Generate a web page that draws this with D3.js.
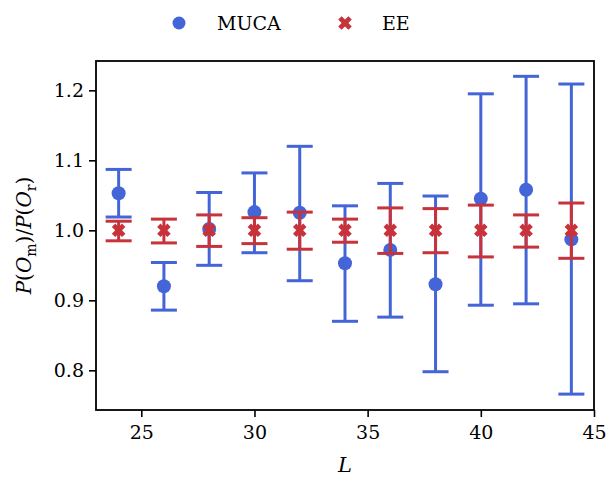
<!DOCTYPE html>
<html>
<head>
<meta charset="utf-8">
<script src="https://cdn.jsdelivr.net/npm/d3@7"></script>
<style>
  body { margin: 0; background: #fff; }
</style>
</head>
<body>
<div id="chart"></div>
<script>
// data
var L = [24, 26, 28, 30, 32, 34, 36, 38, 40, 42, 44];
var mucaVal = [1.053, 0.920, 1.002, 1.026, 1.025, 0.953, 0.972, 0.923, 1.045, 1.058, 0.987];
var mucaLo  = [1.019, 0.886, 0.950, 0.968, 0.928, 0.870, 0.876, 0.798, 0.893, 0.895, 0.766];
var mucaHi  = [1.087, 0.954, 1.054, 1.082, 1.120, 1.035, 1.067, 1.049, 1.195, 1.220, 1.209];
var eeVal = [1.0, 1.0, 1.0, 1.0, 1.0, 1.0, 1.0, 1.0, 1.0, 1.0, 1.0];
var eeLo  = [0.985, 0.982, 0.977, 0.981, 0.973, 0.983, 0.967, 0.968, 0.962, 0.976, 0.960];
var eeHi  = [1.013, 1.016, 1.022, 1.018, 1.026, 1.016, 1.032, 1.031, 1.036, 1.022, 1.039];
var xTicks = [25, 30, 35, 40, 45];
var yTicks = [0.8, 0.9, 1.0, 1.1, 1.2];

var W = 606, H = 478;
var margin = {top: 61, right: 12, bottom: 68, left: 96};
var w = W - margin.left - margin.right;
var h = H - margin.top - margin.bottom;
var blue = "#4465d8", red = "#c8323a";
var serif = "'DejaVu Serif', serif";

var svg = d3.select("#chart").append("svg")
    .attr("width", W)
    .attr("height", H)
    .attr("font-family", serif);
var g = svg.append("g")
    .attr("transform", "translate(" + margin.left + "," + margin.top + ")");

var x = d3.scaleLinear().domain([23, 45]).range([0, w]);
var y = d3.scaleLinear().domain([0.7433, 1.2419]).range([h, 0]);

// axes
var xAxis = g.append("g")
    .attr("transform", "translate(0," + h + ")")
    .call(d3.axisBottom(x).tickValues(xTicks).tickSize(7).tickPadding(9).tickFormat(d3.format("d")));
var yAxis = g.append("g")
    .call(d3.axisLeft(y).tickValues(yTicks).tickSize(7).tickPadding(5).tickFormat(d3.format(".1f")));
[xAxis, yAxis].forEach(function(a) {
    a.attr("font-family", null).attr("font-size", null);
    a.select(".domain").remove();
    a.selectAll("line").attr("stroke", "#000").attr("stroke-width", 1.6);
    a.selectAll("text").attr("fill", "#000")
        .style("font-family", serif).style("font-size", "19px");
});

g.append("rect")
    .attr("width", w).attr("height", h)
    .attr("fill", "none").attr("stroke", "#000").attr("stroke-width", 1.8);

function errBars(vals, lo, hi, color) {
    var s = g.append("g");
    var cap = 13;
    L.forEach(function(l, i) {
        s.append("line")
            .attr("x1", x(l)).attr("x2", x(l))
            .attr("y1", y(lo[i])).attr("y2", y(hi[i]))
            .attr("stroke", color).attr("stroke-width", 3);
        [lo[i], hi[i]].forEach(function(v) {
            s.append("line")
                .attr("x1", x(l) - cap).attr("x2", x(l) + cap)
                .attr("y1", y(v)).attr("y2", y(v))
                .attr("stroke", color).attr("stroke-width", 3);
        });
    });
    return s;
}

var xMark = d3.symbol().type(d3.symbolCross).size(115);

// MUCA
var m = errBars(mucaVal, mucaLo, mucaHi, blue);
m.selectAll("circle").data(L).enter().append("circle")
    .attr("cx", function(d) { return x(d); })
    .attr("cy", function(d, i) { return y(mucaVal[i]); })
    .attr("r", 7)
    .attr("fill", blue);

// EE
var e = errBars(eeVal, eeLo, eeHi, red);
e.selectAll("path").data(L).enter().append("path")
    .attr("d", xMark)
    .attr("transform", function(d, i) { return "translate(" + x(d) + "," + y(eeVal[i]) + ") rotate(45)"; })
    .attr("fill", red);

// labels
svg.append("text")
    .attr("x", margin.left + w / 2).attr("y", 472)
    .attr("text-anchor", "middle")
    .style("font-family", serif)
    .style("font-size", "21px").style("font-style", "italic")
    .text("L");

var yl = svg.append("text")
    .attr("transform", "translate(31," + (margin.top + h / 2) + ") rotate(-90)")
    .attr("text-anchor", "middle")
    .style("font-family", serif)
    .style("font-size", "20px");
yl.append("tspan").style("font-style", "italic").text("P");
yl.append("tspan").text("(");
yl.append("tspan").style("font-style", "italic").text("O");
yl.append("tspan").attr("dy", 5).style("font-size", "14px").text("m");
yl.append("tspan").attr("dy", -5).text(")/");
yl.append("tspan").style("font-style", "italic").text("P");
yl.append("tspan").text("(");
yl.append("tspan").style("font-style", "italic").text("O");
yl.append("tspan").attr("dy", 5).style("font-size", "14px").text("r");
yl.append("tspan").attr("dy", -5).text(")");

// legend
var leg = svg.append("g");
leg.append("circle").attr("cx", 179).attr("cy", 23).attr("r", 6.5).attr("fill", blue);
leg.append("text").attr("x", 217).attr("y", 30).style("font-family", serif).style("font-size", "19px").text("MUCA");
leg.append("path").attr("d", xMark)
    .attr("transform", "translate(345,23) rotate(45)").attr("fill", red);
leg.append("text").attr("x", 382).attr("y", 30).style("font-family", serif).style("font-size", "19px").text("EE");
</script>
</body>
</html>
